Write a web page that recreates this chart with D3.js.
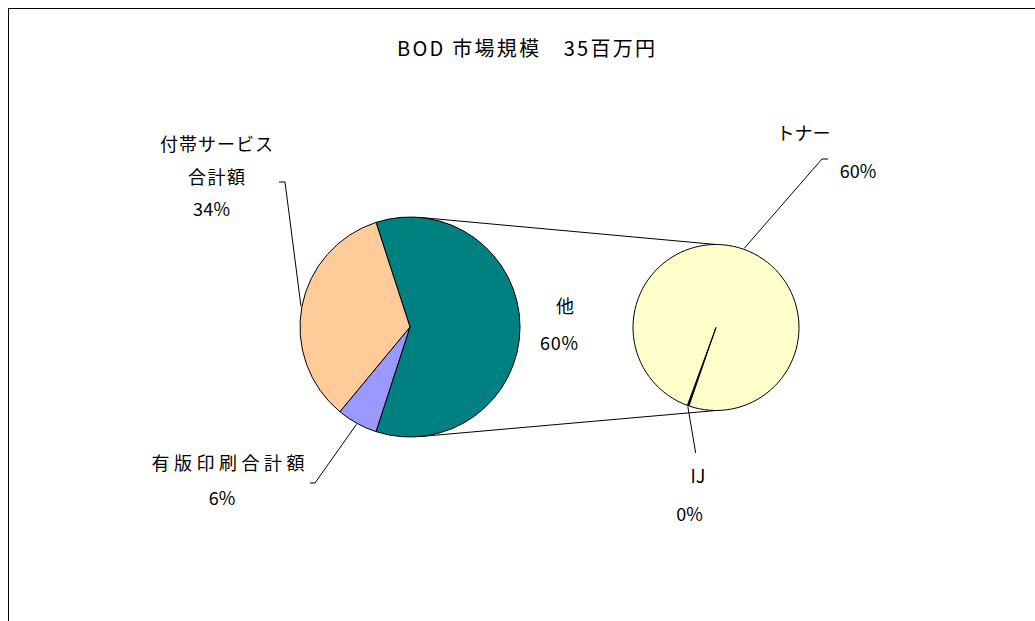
<!DOCTYPE html>
<html>
<head>
<meta charset="utf-8">
<script src="https://cdn.jsdelivr.net/npm/d3@7"></script>
<style>
  body { margin: 0; background: #fff; }
  svg { display: block; }
  text { font-family: "Noto Sans CJK JP", "Noto Sans", sans-serif; fill: #000; }
</style>
</head>
<body>
<svg id="chart" width="1035" height="621"></svg>
<script>
// ---- data ----
const chartTitle = "BOD 市場規模　35百万円";
const mainCategories = ["他", "有版印刷合計額", "付帯サービス合計額"];
const subCategories = ["IJ", "トナー"];
const subValues = [0.2, 59.8];                 // breakdown of "他"
const mainValues = [d3.sum(subValues), 6.0, 34.0];
const mainColors = ["#008080", "#9999FF", "#FFCC99"];
const subColors = ["#000000", "#FFFFCC"];

// ---- layout ----
const W = 1035, H = 621;
const mainGeo = { cx: 410, cy: 327, r: 110 };
const subGeo = { cx: 716, cy: 327.5, r: 83 };
const deg = Math.PI / 180;
const labelSize = 18;

// label blocks: [text, centre x, centre y, width]
const mainLabelLayout = [
  { lines: [["他", 565, 305, 19], ["{p}", 559, 342, 38]] },
  { lines: [["有版印刷合計額", 228, 462, 153], ["{p}", 222, 497, 23]],
    leader: [[315, 483], [310, 483]] },
  { lines: [["付帯サービス", 216.5, 143, 113], ["合計額", 216.5, 176, 57], ["{p}", 211.5, 208, 37]],
    leader: [[285, 182], [279, 182]] }
];
const subLabelLayout = [
  { lines: [["IJ", 698, 475, 13], ["{p}", 689.5, 513, 25]],
    leader: [[695.7, 453]] },
  { lines: [["トナー", 803.5, 132, 45], ["{p}", 858, 170, 36]],
    leader: [[822, 159], [828, 159]] }
];

const svg = d3.select("#chart");

// chart frame
svg.append("rect")
  .attr("x", 8.5).attr("y", 8.5)
  .attr("width", W + 40).attr("height", H + 40)
  .attr("fill", "#fff").attr("stroke", "#000").attr("stroke-width", 1);

// widen text to a given span, never squeeze it
function fitWidth(sel, w) {
  const natural = sel.node().getComputedTextLength();
  if (w > natural) sel.attr("textLength", w).attr("lengthAdjust", "spacing");
}

// title
const titleEl = svg.append("text")
  .attr("x", 526).attr("y", 47)
  .attr("text-anchor", "middle")
  .attr("dominant-baseline", "central")
  .attr("font-size", 20)
  .text(chartTitle);
fitWidth(titleEl, 258);

const total = d3.sum(mainValues);
const pct = v => Math.round(v / total * 100) + "%";
const onCircle = (g, a, extra = 0) =>
  [g.cx + (g.r + extra) * Math.sin(a), g.cy - (g.r + extra) * Math.cos(a)];

// "他" is centred on the right-hand side, facing the second pie
const otherSpan = mainValues[0] / total * 360;
const mainStart = (90 - otherSpan / 2) * deg;
const mainPie = d3.pie().sort(null).value(d => d)
  .startAngle(mainStart).endAngle(mainStart + 2 * Math.PI);
const subStart = 199 * deg;
const subPie = d3.pie().sort(null).value(d => d)
  .startAngle(subStart).endAngle(subStart + 2 * Math.PI);

const mainArcs = mainPie(mainValues);
const subArcs = subPie(subValues);

// connector lines between the two pies
const connectors = [
  [onCircle(mainGeo, 5 * deg), onCircle(subGeo, 0)],
  [onCircle(mainGeo, 175 * deg), onCircle(subGeo, 180 * deg)]
];
svg.append("g").selectAll("line").data(connectors).join("line")
  .attr("x1", d => d[0][0]).attr("y1", d => d[0][1])
  .attr("x2", d => d[1][0]).attr("y2", d => d[1][1])
  .attr("stroke", "#000").attr("stroke-width", 1);

function drawPie(geo, arcs, colors) {
  const arc = d3.arc().innerRadius(0).outerRadius(geo.r);
  svg.append("g")
    .attr("transform", `translate(${geo.cx},${geo.cy})`)
    .selectAll("path").data(arcs).join("path")
    .attr("d", arc)
    .attr("fill", (d, i) => colors[i])
    .attr("stroke", "#000")
    .attr("stroke-width", 1)
    .attr("stroke-linejoin", "round");
}
drawPie(mainGeo, mainArcs, mainColors);
drawPie(subGeo, subArcs, subColors);

function drawLabels(geo, arcs, values, layout) {
  arcs.forEach((a, i) => {
    const lay = layout[i];
    if (lay.leader) {
      const mid = (a.startAngle + a.endAngle) / 2;
      const pts = [onCircle(geo, mid, 1), ...lay.leader];
      svg.append("path")
        .attr("d", d3.line()(pts))
        .attr("fill", "none")
        .attr("stroke", "#000")
        .attr("stroke-width", 1);
    }
    lay.lines.forEach(([t, x, y, w]) => {
      const txt = t === "{p}" ? pct(values[i]) : t;
      const el = svg.append("text")
        .attr("x", x).attr("y", y)
        .attr("text-anchor", "middle")
        .attr("dominant-baseline", "central")
        .attr("font-size", labelSize)
        .text(txt);
      if (txt.length > 1) fitWidth(el, w);
    });
  });
}
drawLabels(mainGeo, mainArcs, mainValues, mainLabelLayout);
drawLabels(subGeo, subArcs, subValues, subLabelLayout);
</script>
</body>
</html>
